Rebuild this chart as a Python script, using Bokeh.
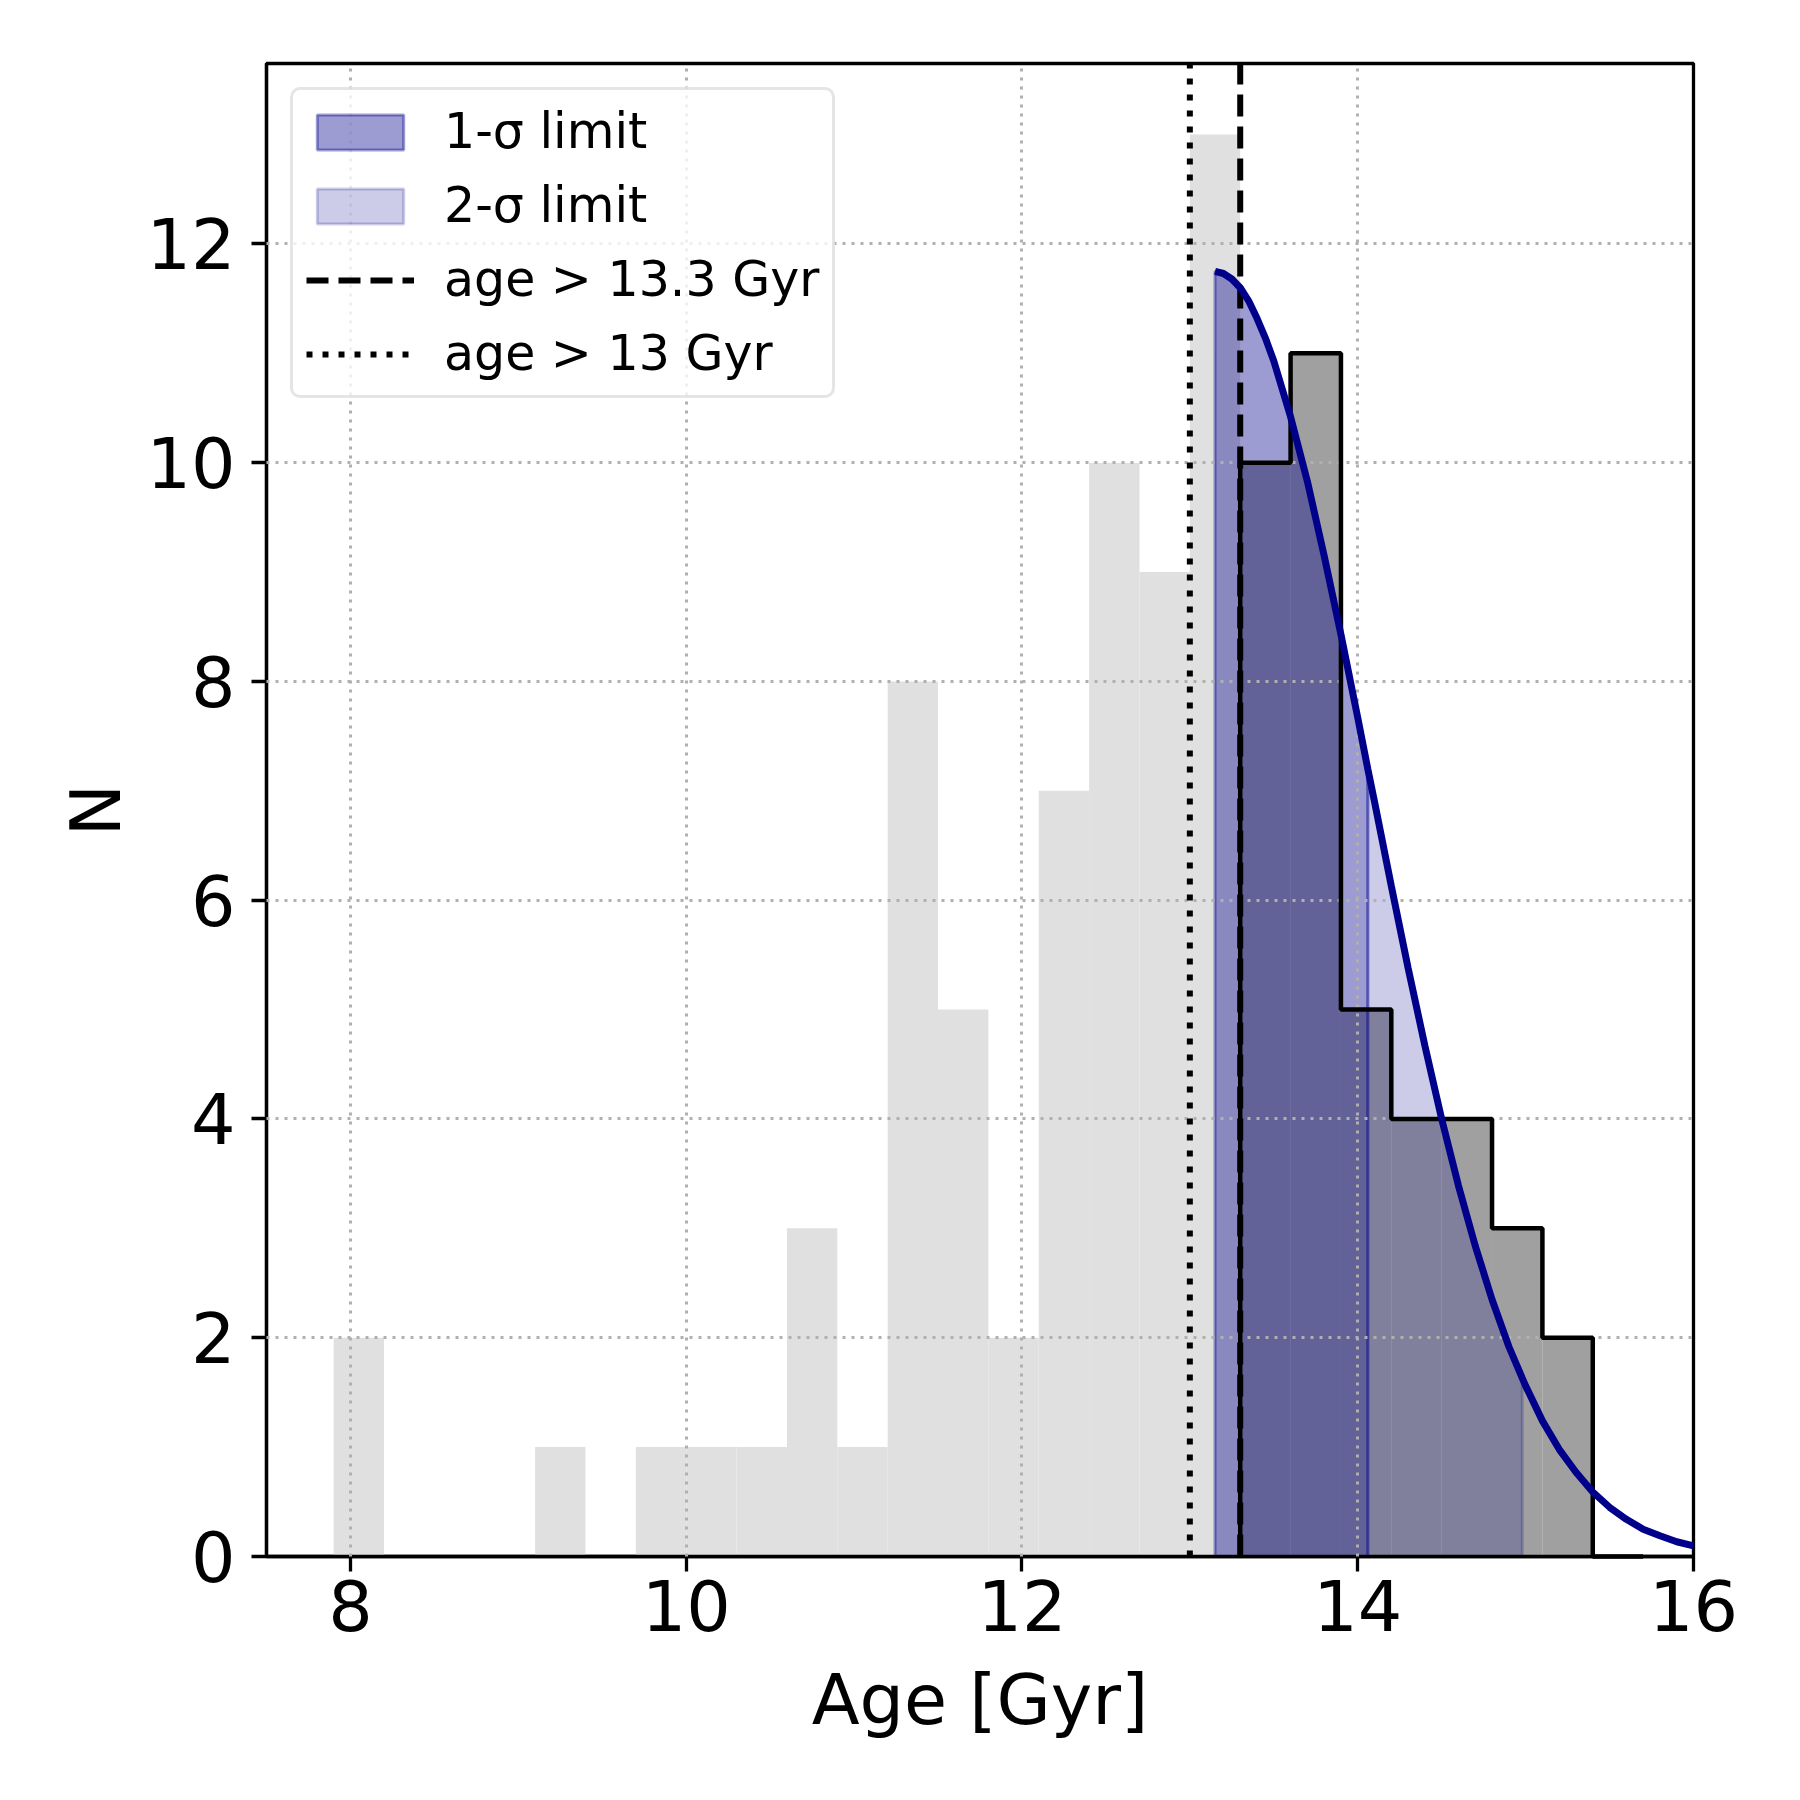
from bokeh.plotting import figure
from bokeh.models import Range1d, Legend, LegendItem, FixedTicker
from bokeh.embed import file_html
from bokeh.resources import INLINE

# ---- data ----
# full sample histogram (light grey), bin edges and counts
bin_edges = [7.9, 8.2, 8.5, 8.8, 9.1, 9.4, 9.7, 10.0, 10.3, 10.6, 10.9, 11.2, 11.5,
             11.8, 12.1, 12.4, 12.7, 13.0, 13.3, 13.6, 13.9, 14.2, 14.5, 14.8,
             15.1, 15.4, 15.7]
all_counts = [2, 0, 0, 0, 1, 0, 1, 1, 1, 3, 1, 8, 5, 2, 7, 10, 9, 13,
              10, 11, 5, 4, 4, 3, 2, 0]

# old sub-sample histogram (age > 13.3 Gyr, dark grey with black outline)
old_edges = [13.3, 13.6, 13.9, 14.2, 14.5, 14.8, 15.1, 15.4, 15.7]
old_counts = [10, 11, 5, 4, 4, 3, 2, 0]

# fitted distribution curve
curve_x = [13.15, 13.2, 13.25, 13.3, 13.35, 13.4, 13.45, 13.5, 13.6, 13.7, 13.8,
           13.9, 14.0, 14.06, 14.1, 14.2, 14.3, 14.4, 14.5, 14.6, 14.7, 14.8,
           14.9, 14.98, 15.0, 15.1, 15.2, 15.3, 15.4, 15.5, 15.6, 15.7, 15.8,
           15.9, 16.0]
curve_y = [11.75, 11.73, 11.68, 11.60, 11.48, 11.32, 11.14, 10.93, 10.42, 9.83, 9.15,
           8.43, 7.67, 7.20, 6.90, 6.13, 5.38, 4.67, 4.00, 3.39, 2.84, 2.35,
           1.92, 1.63, 1.56, 1.24, 0.98, 0.77, 0.59, 0.45, 0.34, 0.25, 0.19,
           0.135, 0.097]

sigma1_range = [13.15, 14.06]
sigma2_range = [14.06, 14.98]
cut_dashed = 13.3
cut_dotted = 13.0

x_ticks = [8, 10, 12, 14, 16]
y_ticks = [0, 2, 4, 6, 8, 10, 12]
x_lim = [7.5, 16.0]
y_lim = [0.0, 13.65]

FONT = "DejaVu Sans"

p = figure(width=1784, height=1784, output_backend="svg", toolbar_location=None,
           x_range=Range1d(*x_lim), y_range=Range1d(*y_lim),
           min_border_left=266, min_border_right=91, min_border_top=63,
           min_border_bottom=228)
p.background_fill_color = "white"
p.border_fill_color = "white"
p.outline_line_color = "black"
p.outline_line_width = 3.3

# light grey full histogram
p.quad(left=bin_edges[:-1], right=bin_edges[1:], bottom=0, top=all_counts,
       fill_color="#e0e0e0", line_color=None)

# dark grey old histogram fill
p.quad(left=old_edges[:-1], right=old_edges[1:], bottom=0, top=old_counts,
       fill_color="#a0a0a0", line_color=None)

# sigma fills
def band(lo, hi):
    xs = [lo]
    ys = [0]
    for xv, yv in zip(curve_x, curve_y):
        if lo - 1e-9 <= xv <= hi + 1e-9:
            xs.append(xv)
            ys.append(yv)
    xs.append(hi)
    ys.append(0)
    return xs, ys

x1, y1 = band(*sigma1_range)
x2, y2 = band(*sigma2_range)
r_s1 = p.patch(x1, y1, fill_color="darkblue", fill_alpha=0.39,
               line_color="darkblue", line_alpha=0.39, line_width=3)
r_s2 = p.patch(x2, y2, fill_color="darkblue", fill_alpha=0.2,
               line_color="darkblue", line_alpha=0.2, line_width=3)

# black step outline of old histogram
sx = [old_edges[0]]
sy = [0]
for i, c in enumerate(old_counts):
    sx += [old_edges[i], old_edges[i + 1]]
    sy += [c, c]
sx.append(old_edges[-1])
sy.append(0)
r_step = p.line(sx, sy, line_color="black", line_width=4.5)

# vertical cut lines
r_dash = p.line([cut_dashed, cut_dashed], y_lim, line_color="black",
                line_width=6, line_dash="22 10")
r_dot = p.line([cut_dotted, cut_dotted], y_lim, line_color="black",
               line_width=6, line_dash="6 10")

# curve
r_curve = p.line(curve_x, curve_y, line_color="darkblue", line_width=7)

for r in (r_step, r_dash, r_dot, r_curve):
    r.level = "annotation"

# axes
for ax in (p.xaxis[0], p.yaxis[0]):
    ax.major_label_text_font = FONT
    ax.major_label_text_font_size = "70px"
    ax.major_label_text_color = "black"
    ax.axis_label_text_font = FONT
    ax.axis_label_text_font_size = "70px"
    ax.axis_label_text_font_style = "normal"
    ax.axis_label_text_color = "black"
    ax.axis_line_width = 3.3
    ax.major_tick_line_width = 3.3
    ax.major_tick_out = 15
    ax.major_tick_in = 0
    ax.minor_tick_line_color = None

p.xaxis.axis_label = "Age [Gyr]"
p.yaxis.axis_label = "N"
p.xaxis.ticker = FixedTicker(ticks=x_ticks)
p.yaxis.ticker = FixedTicker(ticks=y_ticks)
p.xaxis.major_label_standoff = 8
p.yaxis.major_label_standoff = 16
p.xaxis.axis_label_standoff = 25
p.yaxis.axis_label_standoff = 6

p.xgrid[0].ticker = FixedTicker(ticks=x_ticks)
p.ygrid[0].ticker = FixedTicker(ticks=y_ticks)
for g in (p.xgrid[0], p.ygrid[0]):
    g.grid_line_color = "#b0b0b0"
    g.grid_line_width = 3
    g.grid_line_dash = "3 6"
    g.level = "guide"

legend = Legend(items=[
    LegendItem(label="1-σ limit", renderers=[r_s1]),
    LegendItem(label="2-σ limit", renderers=[r_s2]),
    LegendItem(label="age > 13.3 Gyr", renderers=[r_dash]),
    LegendItem(label="age > 13 Gyr", renderers=[r_dot]),
], location="top_left")
legend.margin = 24
legend.padding = 13
legend.spacing = 17
legend.label_height = 56
legend.glyph_height = 44
legend.glyph_width = 108
legend.label_standoff = 30
legend.label_text_font = FONT
legend.label_text_font_size = "49px"
legend.label_text_color = "black"
legend.border_line_color = "#cccccc"
legend.border_line_width = 3
legend.background_fill_color = "white"
legend.background_fill_alpha = 0.8
try:
    legend.border_radius = 10
except Exception:
    pass
p.add_layout(legend)

open("out.html", "w").write(file_html(p, INLINE))
